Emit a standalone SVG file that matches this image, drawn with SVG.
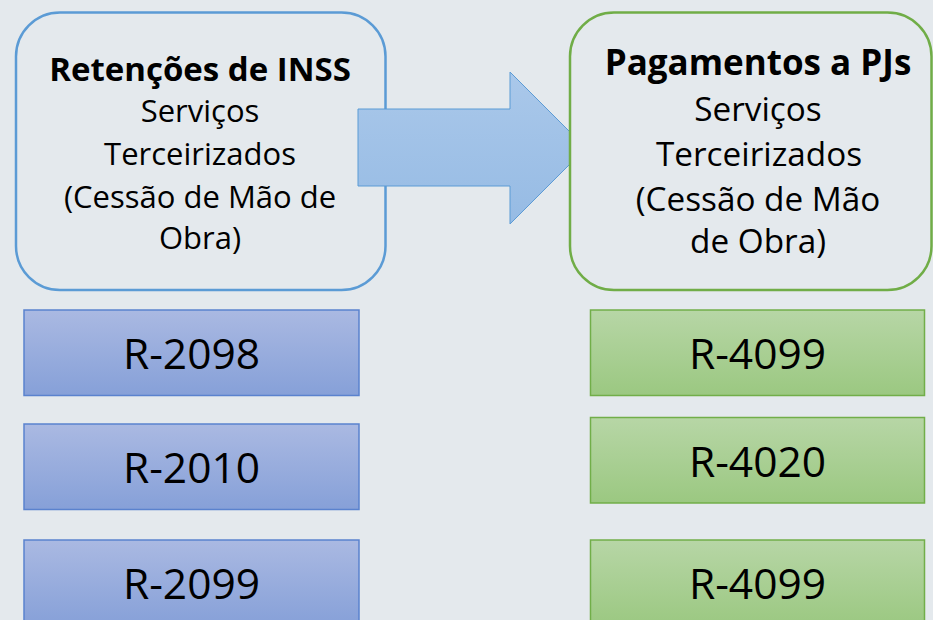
<svg xmlns="http://www.w3.org/2000/svg" width="933" height="620" viewBox="0 0 933 620">
<defs>
<linearGradient id="gBlue" x1="0" y1="0" x2="0" y2="1">
<stop offset="0" stop-color="#AAB9E2"/>
<stop offset="1" stop-color="#86A0D8"/>
</linearGradient>
<linearGradient id="gGreen" x1="0" y1="0" x2="0" y2="1">
<stop offset="0" stop-color="#B7D6A6"/>
<stop offset="1" stop-color="#9BC881"/>
</linearGradient>
<linearGradient id="gArrow" x1="0" y1="0" x2="0" y2="1">
<stop offset="0" stop-color="#AAC8EA"/>
<stop offset="1" stop-color="#96BBE4"/>
</linearGradient>
<style>
.bg{fill:#E4E9ED}
.boxL{fill:#E4E9ED;stroke:#5B9BD5;stroke-width:2.5}
.boxR{fill:#E4E9ED;stroke:#70AD47;stroke-width:2.5}
.rB{fill:url(#gBlue);stroke:#5A82CE;stroke-width:1.5}
.rG{fill:url(#gGreen);stroke:#71AE49;stroke-width:1.5}
.t{font-family:"Open Sans","Noto Sans","DejaVu Sans",sans-serif;fill:#000;text-anchor:middle}
.h{font-weight:bold}
.lbl{font-size:42.5px}
</style>
</defs>
<rect class="bg" x="0" y="0" width="933" height="620"/>
<g id="nodeLeft">
<rect class="boxL" x="16" y="12.5" width="369.5" height="277.5" rx="44" ry="44"/>
<text class="t" font-size="31" x="200" y="81"><tspan class="h" font-size="33">Retenções de INSS</tspan><tspan x="200" y="122">Serviços</tspan><tspan x="200" y="165">Terceirizados</tspan><tspan x="200" y="208">(Cessão de Mão de</tspan><tspan x="200" y="249">Obra)</tspan></text>
</g>
<g id="connectors">
<path d="M358,109 H510 V72 L586,148 L510,224 V186 H358 Z" fill="url(#gArrow)" stroke="#5B9BD5" stroke-width="1"/>
</g>
<g id="nodeRight">
<rect class="boxR" x="570" y="12.5" width="361.5" height="277.5" rx="44" ry="44"/>
<text class="t" font-size="33.3" x="758" y="75"><tspan class="h" font-size="35">Pagamentos a PJs</tspan><tspan x="758" y="121">Serviços</tspan><tspan x="759" y="166">Terceirizados</tspan><tspan x="758" y="211">(Cessão de Mão</tspan><tspan x="758" y="253">de Obra)</tspan></text>
</g>
<g id="r2098"><rect class="rB" x="24" y="310" width="335" height="85.5"/><text class="t lbl" x="191.5" y="369">R-2098</text></g>
<g id="r2010"><rect class="rB" x="24" y="424" width="335" height="85.5"/><text class="t lbl" x="191.5" y="483">R-2010</text></g>
<g id="r2099"><rect class="rB" x="24" y="540" width="335" height="86"/><text class="t lbl" x="191.5" y="599">R-2099</text></g>
<g id="r4099a"><rect class="rG" x="590.5" y="310" width="334" height="85.5"/><text class="t lbl" x="757.5" y="369">R-4099</text></g>
<g id="r4020"><rect class="rG" x="590.5" y="417.5" width="334" height="85.5"/><text class="t lbl" x="757.5" y="477">R-4020</text></g>
<g id="r4099b"><rect class="rG" x="590.5" y="540" width="334" height="86"/><text class="t lbl" x="757.5" y="599">R-4099</text></g>
</svg>
